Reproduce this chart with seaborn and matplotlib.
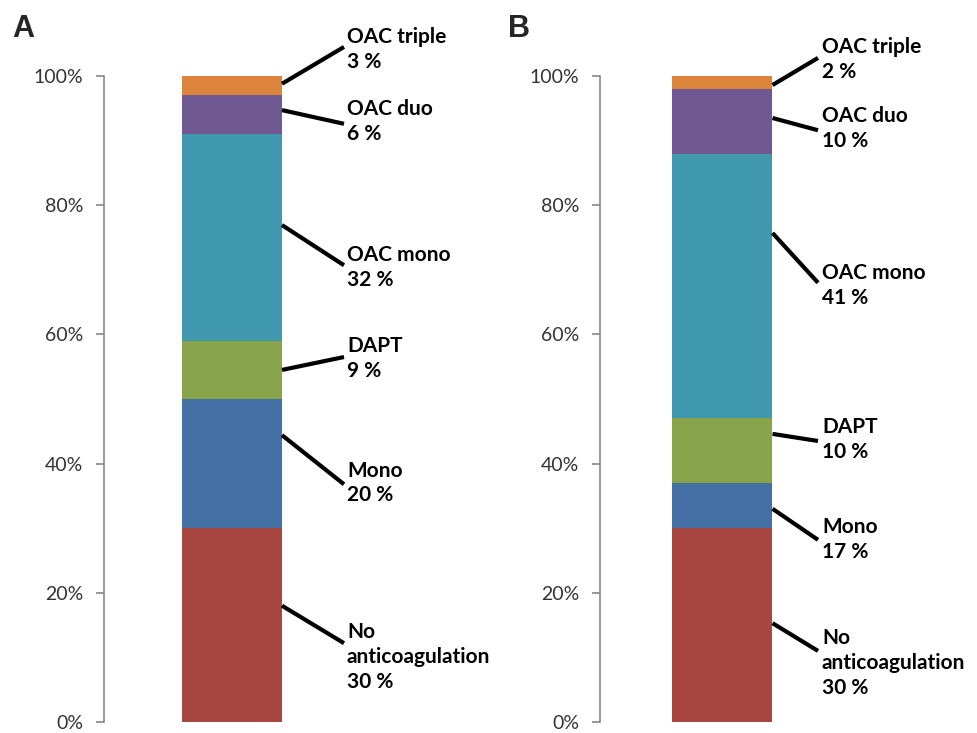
import matplotlib.pyplot as plt
import pandas as pd
import seaborn as sns

# Treatment categories, bottom to top
categories = ["No\nanticoagulation", "Mono", "DAPT", "OAC mono", "OAC duo", "OAC triple"]
colors = ["#A84642", "#4470A5", "#88A54B", "#3F98AE", "#705892", "#DC843B"]

# Segment sizes (%) as drawn
values_a = [30, 20, 9, 32, 6, 3]
values_b = [30, 7, 10, 41, 10, 2]

# Label texts as printed
pct_labels_a = ["30 %", "20 %", "9 %", "32 %", "6 %", "3 %"]
pct_labels_b = ["30 %", "17 %", "10 %", "41 %", "10 %", "2 %"]

yticks = [0, 20, 40, 60, 80, 100]

# label layout: (anchor fraction in segment, line end y, text center y)
layout_a = [(0.60, 12.2, 10.1), (0.72, 36.8, 37.0), (0.50, 56.5, 56.3),
            (0.56, 70.7, 70.3), (0.62, 92.6, 93.0), (0.60, 104.5, 104.1)]
layout_b = [(0.51, 11.0, 9.1), (0.43, 28.2, 28.3), (0.76, 43.5, 43.7),
            (0.70, 68.0, 67.6), (0.55, 91.6, 91.9), (0.30, 102.8, 102.5)]

sns.set_style("white")
plt.rcParams['font.family'] = ['Lato', 'DejaVu Sans']

fig = plt.figure(figsize=(9.78, 7.33), dpi=100)
ax_a = fig.add_axes([104 / 978, 11 / 733, 396 / 978, 646 / 733])
ax_b = fig.add_axes([600 / 978, 11 / 733, 378 / 978, 646 / 733])


def draw_panel(ax, values, pct_labels, layout, xlim, text_x, line_end_x):
    df = pd.DataFrame({'category': categories, 'value': values, 'color': colors})
    df['top'] = df['value'].cumsum()
    df['bottom'] = df['top'] - df['value']
    # stacked bar: draw cumulative totals from tallest down
    for _, row in df.iloc[::-1].iterrows():
        sns.barplot(x=["bar"], y=[row['top']], color=row['color'], saturation=1,
                    width=1.0, linewidth=0, ax=ax)
    for (_, row), lab, (frac, end_y, text_y) in zip(df.iterrows(), pct_labels, layout):
        anchor_y = row['bottom'] + frac * row['value']
        ax.plot([0.5, line_end_x], [anchor_y, end_y], color='black', lw=3,
                solid_capstyle='butt', clip_on=False)
        ax.text(text_x, text_y, row['category'] + "\n" + lab, ha='left', va='center',
                fontsize=15, fontweight='bold', linespacing=1.3, color='black')
    ax.set_xlim(*xlim)
    ax.set_ylim(0, 100)
    ax.set_xticks([])
    ax.set_xlabel("")
    ax.set_ylabel("")
    ax.set_yticks(yticks)
    ax.set_yticklabels([f"{t}%" for t in yticks], fontsize=14, color='#333333')
    ax.tick_params(axis='y', direction='out', length=6, width=1.2, color='#888888',
                   left=True, pad=9)
    for side in ['top', 'right', 'bottom']:
        ax.spines[side].set_visible(False)
    ax.spines['left'].set_color('#888888')
    ax.spines['left'].set_linewidth(1.2)


draw_panel(ax_a, values_a, pct_labels_a, layout_a, (-1.28, 2.68), 1.15, 1.12)
draw_panel(ax_b, values_b, pct_labels_b, layout_b, (-1.225, 2.555), 0.995, 0.955)

fig.text(12 / 978, 1 - 29 / 733, "A", fontsize=22, fontweight='bold',
         family='Liberation Sans', va='center')
fig.text(508 / 978, 1 - 29 / 733, "B", fontsize=22, fontweight='bold',
         family='Liberation Sans', va='center')

fig.savefig("out.png", dpi=100)
